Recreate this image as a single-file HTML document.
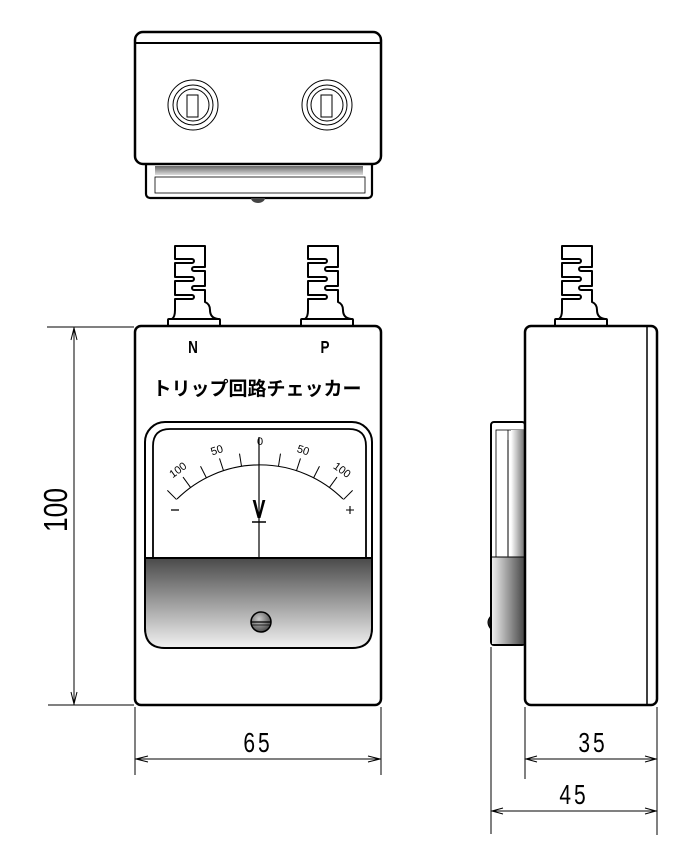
<!DOCTYPE html>
<html><head><meta charset="utf-8"><style>html,body{margin:0;padding:0;background:#fff}svg{display:block}</style></head><body>
<svg width="696" height="859" viewBox="0 0 696 859" xmlns="http://www.w3.org/2000/svg">
<defs>
<linearGradient id="gv" x1="0" y1="0" x2="0" y2="1"><stop offset="0" stop-color="#4a4a4a"/><stop offset="1" stop-color="#f2f2f2"/></linearGradient>
<linearGradient id="gh" x1="0" y1="0" x2="1" y2="0"><stop offset="0" stop-color="#eeeeee"/><stop offset="1" stop-color="#444"/></linearGradient>
<linearGradient id="gh2" x1="0" y1="0" x2="1" y2="0"><stop offset="0" stop-color="#fff"/><stop offset="1" stop-color="#777"/></linearGradient>
<linearGradient id="gbar" x1="0" y1="0" x2="0" y2="1"><stop offset="0" stop-color="#666"/><stop offset="1" stop-color="#ddd"/></linearGradient>
<radialGradient id="gs" cx="0.4" cy="0.35" r="0.7"><stop offset="0" stop-color="#ccc"/><stop offset="1" stop-color="#444"/></radialGradient>
<g id="conn" fill="#fff" stroke="#000" stroke-width="2" stroke-linejoin="round">
<path d="M175,246 H205 V267 H194 a2,2 0 0 0 0,4 H205 V286 H194 a2,2 0 0 0 0,4 H205 V302 Q210,304 210,310 Q210,318 218,319 H172 Q175,317 175,310 V299 H192 a2,2 0 0 0 0,-4 H175 V281 H192 a2,2 0 0 0 0,-4 H175 V263 H192 a2,2 0 0 0 0,-4 H175 Z"/>
<rect x="168" y="319" width="52" height="7" rx="1"/>
</g>
</defs>

<!-- TOP VIEW -->
<rect x="146" y="160" width="226" height="38" rx="4" fill="#fff" stroke="#000" stroke-width="2.2"/>
<rect x="155" y="166" width="208" height="9" fill="url(#gbar)"/>
<rect x="155" y="177" width="210" height="16" fill="none" stroke="#000" stroke-width="0.8"/>
<path d="M251,198 A7,5 0 0 0 265,198 Z" fill="#444"/>
<rect x="135" y="32" width="246" height="132" rx="8" fill="#fff" stroke="#000" stroke-width="2.5"/>
<line x1="135" y1="43" x2="381" y2="43" stroke="#000" stroke-width="2"/>
<g fill="none" stroke="#000" stroke-width="1">
<circle cx="193" cy="105" r="25"/><circle cx="193" cy="105" r="20"/><circle cx="193" cy="105" r="16"/>
<rect x="187" y="95" width="11" height="22"/>
<circle cx="327" cy="105" r="25"/><circle cx="327" cy="105" r="20"/><circle cx="327" cy="105" r="16"/>
<rect x="321" y="95" width="11" height="22"/>
</g>

<!-- connectors -->
<use href="#conn"/>
<use href="#conn" transform="translate(133,0)"/>
<use href="#conn" transform="translate(387,0)"/>

<!-- FRONT VIEW -->
<rect x="135" y="326" width="246" height="379" rx="6" fill="#fff" stroke="#000" stroke-width="2.5"/>
<text x="193" y="353" font-family="Liberation Sans, sans-serif" font-weight="bold" font-size="18" text-anchor="middle" transform="translate(193,0) scale(0.75,1) translate(-193,0)">N</text>
<text x="325" y="353" font-family="Liberation Sans, sans-serif" font-weight="bold" font-size="18" text-anchor="middle" transform="translate(325,0) scale(0.75,1) translate(-325,0)">P</text>
<text x="257" y="395" font-family="Liberation Sans, 'Noto Sans CJK JP', sans-serif" font-weight="bold" font-size="19" text-anchor="middle">トリップ回路チェッカー</text>

<rect x="145" y="422" width="227" height="226" rx="20" fill="#fff" stroke="#000" stroke-width="2"/>
<path d="M153,558 L153,446 Q153,429 170,429 L349,429 Q366,429 366,446 L366,558" fill="none" stroke="#000" stroke-width="1.8"/>
<path d="M145,558 L372,558 L372,628 Q372,648 352,648 L165,648 Q145,648 145,628 Z" fill="url(#gv)" stroke="#000" stroke-width="2"/>
<line x1="145" y1="558" x2="372" y2="558" stroke="#000" stroke-width="2"/>
<path d="M177,499 A118,118 0 0 1 343,499" fill="none" stroke="#000" stroke-width="1.1"/>
<g stroke="#000" stroke-width="1" transform="translate(260,583)">
<line x1="0" y1="-118" x2="0" y2="-131" transform="rotate(-45)"/>
<line x1="0" y1="-118" x2="0" y2="-131" transform="rotate(-36)"/>
<line x1="0" y1="-118" x2="0" y2="-131" transform="rotate(-27)"/>
<line x1="0" y1="-118" x2="0" y2="-131" transform="rotate(-18)"/>
<line x1="0" y1="-118" x2="0" y2="-131" transform="rotate(-9)"/>
<line x1="0" y1="-118" x2="0" y2="-131" transform="rotate(9)"/>
<line x1="0" y1="-118" x2="0" y2="-131" transform="rotate(18)"/>
<line x1="0" y1="-118" x2="0" y2="-131" transform="rotate(27)"/>
<line x1="0" y1="-118" x2="0" y2="-131" transform="rotate(36)"/>
<line x1="0" y1="-118" x2="0" y2="-131" transform="rotate(45)"/>
</g>
<g font-family="Liberation Sans, sans-serif" font-size="11" text-anchor="middle" transform="translate(260,583)">
<text x="0" y="-136" transform="rotate(-36)">100</text>
<text x="0" y="-136" transform="rotate(-18)">50</text>
<text x="0" y="-138">0</text>
<text x="0" y="-136" transform="rotate(18)">50</text>
<text x="0" y="-136" transform="rotate(36)">100</text>
</g>
<line x1="259" y1="437" x2="259" y2="558" stroke="#000" stroke-width="1.2"/>
<text x="259" y="518" font-family="Liberation Sans, sans-serif" font-weight="bold" font-size="26" text-anchor="middle" transform="translate(259,0) scale(0.75,1) translate(-259,0)">V</text>
<line x1="252" y1="522" x2="266" y2="522" stroke="#000" stroke-width="1.5"/>
<line x1="171" y1="510" x2="179" y2="510" stroke="#000" stroke-width="1.3"/>
<path d="M346,510 h8 M350,506 v8" stroke="#000" stroke-width="1.1"/>
<circle cx="261" cy="622" r="10" fill="url(#gs)" stroke="#000" stroke-width="1.5"/>
<line x1="251" y1="622" x2="271" y2="622" stroke="#000" stroke-width="1.3"/>
<line x1="252" y1="625" x2="270" y2="625" stroke="#000" stroke-width="0.7"/>

<!-- SIDE VIEW -->
<rect x="491" y="422" width="34" height="223" rx="3" fill="#fff" stroke="#000" stroke-width="2"/>
<rect x="496" y="430" width="28" height="127" fill="none" stroke="#000" stroke-width="0.8"/>
<rect x="511" y="430" width="13" height="127" fill="url(#gh2)"/>
<line x1="508" y1="430" x2="508" y2="557" stroke="#000" stroke-width="0.8"/>
<line x1="508" y1="440" x2="508" y2="556" stroke="#000" stroke-width="1"/>
<rect x="492" y="557" width="33" height="87" fill="url(#gh)"/>
<line x1="491" y1="557" x2="525" y2="557" stroke="#000" stroke-width="1"/>
<path d="M490,617 Q486,622 490,628 Z" fill="#333" stroke="#000"/>
<rect x="525" y="326" width="132" height="379" rx="6" fill="#fff" stroke="#000" stroke-width="2.5"/>
<line x1="647" y1="327" x2="647" y2="704" stroke="#000" stroke-width="1.5"/>

<!-- DIMENSIONS -->
<g stroke="#000" stroke-width="1" fill="none">
<line x1="47" y1="327" x2="134" y2="327"/>
<line x1="48" y1="705" x2="134" y2="705"/>
<line x1="74" y1="327" x2="74" y2="705"/>
<path d="M71,340 L74,328 L77,340 M71,692 L74,704 L77,692"/>
<line x1="135" y1="707" x2="135" y2="775"/>
<line x1="381" y1="707" x2="381" y2="775"/>
<line x1="135" y1="759" x2="381" y2="759"/>
<path d="M148,756 L136,759 L148,762 M368,756 L380,759 L368,762"/>
<line x1="525" y1="707" x2="525" y2="779"/>
<line x1="657" y1="707" x2="657" y2="835"/>
<line x1="491" y1="647" x2="491" y2="834"/>
<line x1="525" y1="759" x2="657" y2="759"/>
<path d="M537,756 L526,759 L537,762 M645,756 L656,759 L645,762"/>
<line x1="491" y1="811" x2="657" y2="811"/>
<path d="M503,808 L492,811 L503,814 M645,808 L656,811 L645,814"/>
</g>
<g font-family="Liberation Sans, sans-serif" text-anchor="middle">
<text transform="translate(67,510) rotate(-90) scale(0.8,1)" x="0" y="0" font-size="33">100</text>
<text x="258" y="752" font-size="28" letter-spacing="4" transform="translate(258,0) scale(0.75,1) translate(-258,0)">65</text>
<text x="593" y="752" font-size="28" letter-spacing="4" transform="translate(593,0) scale(0.75,1) translate(-593,0)">35</text>
<text x="574" y="804" font-size="28" letter-spacing="4" transform="translate(574,0) scale(0.75,1) translate(-574,0)">45</text>
</g>
</svg>
</body></html>
